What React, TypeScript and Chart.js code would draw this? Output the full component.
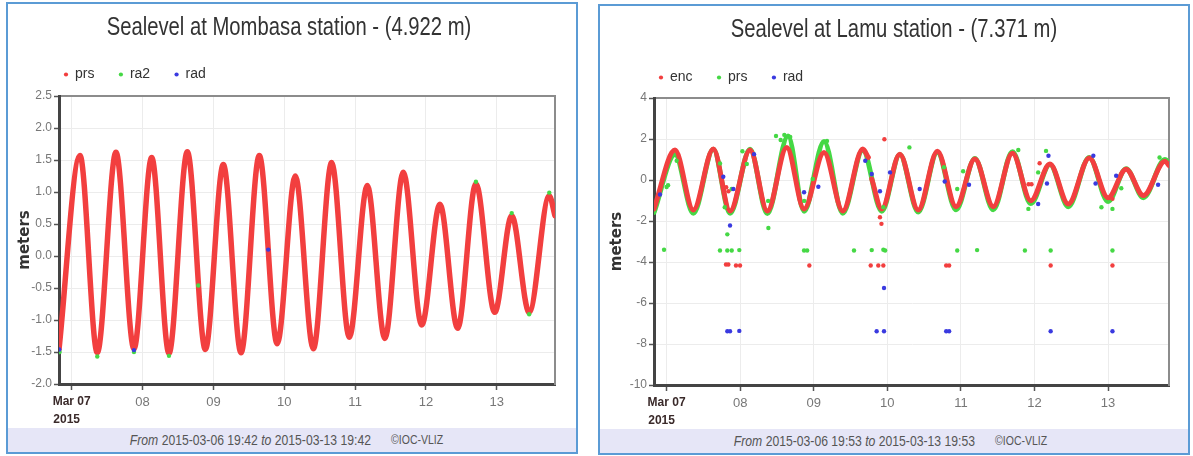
import React, { useEffect, useRef } from "react";
import { Chart, registerables } from "chart.js";

Chart.register(...registerables);

// ---------- shared axis data (x = days since 2015-03-07 00:00) ----------
const dayTicks = [0, 1, 2, 3, 4, 5, 6];
const dayLabels: (string | string[])[] = [["Mar 07", "2015   "], "08", "09", "10", "11", "12", "13"];

// ---------- Mombasa ----------
const mombasaTitle = "Sealevel at Mombasa station - (4.922 m)";
const mombasaSeries = ["prs", "ra2", "rad"];
const mombasaYTicks = [-2.0, -1.5, -1.0, -0.5, 0.0, 0.5, 1.0, 1.5, 2.0, 2.5];
const mombasaXMin = -0.179; // 2015-03-06 19:42
const mombasaXMax = 6.821; // 2015-03-13 19:42

const mombasaPrsT = [-0.179, 0.117, 0.361, 0.625, 0.879, 1.129, 1.373, 1.632, 1.886, 2.14, 2.39, 2.648, 2.9, 3.156, 3.41, 3.669, 3.918, 4.172, 4.42, 4.68, 4.94, 5.197, 5.447, 5.705, 5.97, 6.21, 6.456, 6.74, 6.821];
const mombasaPrsV = [-1.46, 1.57, -1.51, 1.62, -1.45, 1.54, -1.52, 1.63, -1.46, 1.43, -1.51, 1.57, -1.37, 1.25, -1.45, 1.46, -1.27, 1.1, -1.29, 1.31, -1.08, 0.81, -1.13, 1.13, -0.88, 0.63, -0.88, 0.94, 0.63];

const mombasaRa2T = [-0.17, 0.361, 0.879, 1.373, 1.787, 5.705, 6.21, 6.456, 6.74];
const mombasaRa2V = [-1.5, -1.57, -1.5, -1.56, -0.46, 1.16, 0.67, -0.91, 0.99];

const mombasaRadT = [-0.175, 0.879, 2.774];
const mombasaRadV = [-1.46, -1.47, 0.1];

// ---------- Lamu ----------
const lamuTitle = "Sealevel at Lamu station - (7.371 m)";
const lamuSeries = ["enc", "prs", "rad"];
const lamuYTicks = [-10, -8, -6, -4, -2, 0, 2, 4];
const lamuXMin = -0.1715; // 2015-03-06 19:53
const lamuXMax = 6.8285; // 2015-03-13 19:53

const lamuEncT = [-0.171, 0.114, 0.363, 0.635, 0.862, 1.134, 1.369, 1.633, 1.868, 2.139, 2.394, 2.666, 2.742, 2.765, 2.788, 2.924, 3.17, 3.42, 3.68, 3.934, 4.19, 4.44, 4.7, 4.95, 5.21, 5.46, 5.745, 6.0, 6.245, 6.48, 6.774, 6.829];
const lamuEncV = [-1.41, 1.46, -1.46, 1.51, -1.51, 1.46, -1.51, 1.59, -1.41, 1.34, -1.51, 1.51, 1.1, null, 0.05, -1.41, 1.26, -1.46, 1.4, -1.3, 1.02, -1.3, 1.3, -1.01, 0.78, -1.17, 1.07, -0.87, 0.53, -0.76, 0.91, 0.7];

const lamuEncDotT = [0.807, 0.839, 0.943, 0.998, 1.94, 2.774, 2.877, 2.946, 3.8, 3.84, 5.22, 6.06, 2.96, 2.9, 2.92, 4.92, 4.96, 5.07, 6.06, 0.81, 0.84];
const lamuEncDotV = [-4.12, -4.12, -4.17, -4.17, -4.17, -4.17, -4.17, -4.17, -4.17, -4.17, -4.17, -4.17, 1.99, -1.82, -2.14, -0.21, -0.21, 0.82, -0.92, -0.35, -0.55];

const lamuPrsLineT = [-0.171, 0.114, 0.363, 0.635, 0.862, 1.134, 1.369, 1.65, 1.868, 2.14, 2.394, 2.666, 2.924, 3.17, 3.42, 3.68, 3.934, 4.19, 4.44, 4.7, 4.95, 5.21, 5.46, 5.745, 6.0, 6.245, 6.48, 6.774, 6.829];
const lamuPrsLineV = [-1.58, 1.25, -1.62, 1.5, -1.62, 1.5, -1.64, 2.15, -1.52, 1.88, -1.62, 1.45, -1.52, 1.25, -1.56, 1.35, -1.45, 1.05, -1.45, 1.38, -1.15, 0.75, -1.3, 1.1, -1.05, 0.55, -0.86, 1.0, 0.85];

const lamuPrsDotT = [-0.035, 0.725, 0.825, 0.885, 0.988, 1.868, 1.91, 2.547, 2.788, 2.946, 2.97, 3.95, 4.22, 4.87, 5.22, 6.06, 0.825, 1.383,
  0.0, 0.02, 0.137, 0.726, 0.79, 0.885, 1.03, 1.09, 1.38, 1.487, 1.55, 1.6, 1.68, 1.87, 1.986, 2.13, 2.18, 2.946, 3.3, 3.77, 3.95, 4.03, 4.78, 4.917, 5.05, 5.157, 5.91, 6.06, 6.18, 6.7];
const lamuPrsDotV = [-3.4, -3.44, -3.44, -3.44, -3.42, -3.44, -3.44, -3.44, -3.42, -3.4, -3.44, -3.44, -3.42, -3.44, -3.44, -3.44, -2.65, -2.34,
  -0.34, -0.25, 0.94, 0.81, -1.33, -0.44, 1.4, 0.78, -1.02, 2.15, 1.95, 2.2, 2.1, -1.02, 0.05, 1.85, 1.9, -1.33, 1.59, 0.62, -0.44, 0.43, 1.46, -1.41, 0.37, 1.42, -1.33, -1.41, -0.4, 1.1];

const lamuRadT = [0.825, 0.862, 0.988, 2.855, 2.955, 3.8, 3.84, 5.22, 6.06, 0.862, 2.955,
  -0.09, 0.77, 0.907, 1.188, 1.868, 2.062, 2.7, 2.788, 2.9, 3.037, 3.44, 3.78, 4.11, 5.05, 5.17, 5.19, 5.8, 5.83, 6.11, 6.68];
const lamuRadV = [-7.38, -7.38, -7.36, -7.38, -7.38, -7.38, -7.38, -7.38, -7.38, -2.22, -5.27,
  -0.71, 0.16, -0.44, 1.26, -0.6, -0.33, 0.94, 0.29, -0.55, 0.37, -0.44, -0.07, -0.23, -1.17, -0.17, 1.18, 1.18, -0.17, 0.21, -0.23];

// ---------- styling ----------
const RED = "#f23f3f";
const GREEN = "#45d845";
const BLUE = "#3a3ae0";
const SANS = '"Liberation Sans", Arial, sans-serif';
const WIDE = '"DejaVu Sans", Verdana, sans-serif';

const pts = (t: number[], v: (number | null)[]) => t.map((x, i) => ({ x, y: v[i] }));

const lineDs = (label: string, t: number[], v: (number | null)[], color: string, order: number, width: number) => ({
  type: "line",
  label,
  data: pts(t, v),
  borderColor: color,
  backgroundColor: color,
  borderWidth: width,
  pointRadius: 0,
  cubicInterpolationMode: "monotone",
  spanGaps: false,
  borderCapStyle: "round",
  borderJoinStyle: "round",
  order,
  xAxisID: "x",
  yAxisID: "y",
});

const dotDs = (label: string, t: number[], v: (number | null)[], color: string, order: number) => ({
  type: "line",
  label,
  data: pts(t, v),
  showLine: false,
  pointRadius: 2.2,
  pointBackgroundColor: color,
  pointBorderWidth: 0,
  backgroundColor: color,
  borderColor: color,
  order,
  xAxisID: "x",
  yAxisID: "y",
});

// Title drawn in a narrow (horizontally condensed) face, like the original Arial Narrow title
const narrowTitle = {
  id: "narrowTitle",
  afterDraw(chart: any, _args: any, opts: any) {
    const { ctx, width } = chart;
    ctx.save();
    ctx.font = `normal ${opts.size}px ${SANS}`;
    ctx.fillStyle = opts.color;
    ctx.textAlign = "center";
    ctx.textBaseline = "middle";
    ctx.translate(width / 2 + opts.dx, opts.y);
    ctx.scale(opts.scaleX, 1);
    ctx.fillText(opts.text, 0, 0);
    ctx.restore();
  },
};

type Spec = {
  title: string;
  titleDx: number;
  legend: { name: string; color: string }[];
  datasets: any[];
  xMin: number;
  xMax: number;
  yTicks: number[];
  yDecimals: number;
  yAxisWidth: number;
  rightWidth: number;
  xAxisHeight: number;
  padTop: number;
  xTopHeight: number;
  yTitlePad: number;
};

function buildConfig(s: Spec): any {
  const yMin = s.yTicks[0];
  const yMax = s.yTicks[s.yTicks.length - 1];
  return {
    type: "line",
    data: { datasets: s.datasets },
    plugins: [narrowTitle],
    options: {
      animation: false,
      responsive: false,
      maintainAspectRatio: false,
      devicePixelRatio: 1,
      events: [],
      layout: { padding: { top: s.padTop, left: 0, right: 0, bottom: 0 } },
      plugins: {
        narrowTitle: { text: s.title, size: 25, scaleX: 0.81, color: "#333", y: 24, dx: s.titleDx },
        title: { display: false },
        legend: {
          display: true,
          position: "top",
          align: "start",
          fullSize: false,
          labels: {
            usePointStyle: true,
            boxWidth: 4,
            boxHeight: 3,
            padding: 5,
            color: "#333",
            font: { family: SANS, size: 14 },
            generateLabels: () =>
              s.legend.map((l, i) => ({
                text: l.name + "     ",
                fillStyle: l.color,
                strokeStyle: l.color,
                lineWidth: 0,
                pointStyle: "circle",
                hidden: false,
                datasetIndex: i,
                fontColor: "#333",
              })),
          },
        },
        tooltip: { enabled: false },
      },
      scales: {
        x: {
          type: "linear",
          position: "bottom",
          min: s.xMin,
          max: s.xMax,
          afterBuildTicks: (sc: any) => {
            sc.ticks = dayTicks.map((v) => ({ value: v }));
          },
          afterFit: (sc: any) => {
            sc.height = s.xAxisHeight;
          },
          ticks: {
            autoSkip: false,
            maxRotation: 0,
            minRotation: 0,
            padding: 3,
            callback: (v: any) => dayLabels[dayTicks.indexOf(Number(v))] ?? "",
            color: (c: any) => (c.index === 0 ? "#3a2a2a" : "#777"),
            font: (c: any) =>
              c.index === 0
                ? { family: SANS, size: 12, weight: "bold", lineHeight: 1.5 }
                : { family: SANS, size: 13, weight: "normal", lineHeight: 1.4 },
          },
          grid: { color: "#ececec", tickColor: "#555", tickLength: 6, lineWidth: 1, tickWidth: 1.5 },
          border: { color: "#444", width: 3 },
        },
        xTop: {
          type: "linear",
          position: "top",
          min: s.xMin,
          max: s.xMax,
          ticks: { display: false },
          grid: { display: false, drawTicks: false, drawOnChartArea: false },
          border: { color: "#8c8c8c", width: 2 },
          afterFit: (sc: any) => {
            sc.height = s.xTopHeight;
          },
        },
        y: {
          type: "linear",
          position: "left",
          min: yMin,
          max: yMax,
          afterBuildTicks: (sc: any) => {
            sc.ticks = s.yTicks.map((v) => ({ value: v }));
          },
          afterFit: (sc: any) => {
            sc.width = s.yAxisWidth;
          },
          ticks: {
            color: "#777",
            font: { family: SANS, size: 12 },
            padding: 2,
            callback: (v: any) => Number(v).toFixed(s.yDecimals),
          },
          grid: { color: "#ececec", tickColor: "#555", tickLength: 5, tickWidth: 1.5 },
          border: { color: "#444", width: 3 },
          title: {
            display: true,
            text: "meters",
            color: "#333",
            font: { family: WIDE, size: 15, weight: "bold" },
            padding: { top: s.yTitlePad, bottom: 0 },
          },
        },
        yRight: {
          type: "linear",
          position: "right",
          min: yMin,
          max: yMax,
          ticks: { display: false },
          grid: { display: false, drawTicks: false, drawOnChartArea: false },
          border: { color: "#8c8c8c", width: 2 },
          afterFit: (sc: any) => {
            sc.width = s.rightWidth;
          },
        },
      },
    },
  };
}

type PanelProps = {
  left: number;
  top: number;
  width: number;
  height: number;
  canvasH: number;
  spec: Spec;
  from: string;
  to: string;
  footerShift: number;
};

function Panel({ left, top, width, height, canvasH, spec, from, to, footerShift }: PanelProps) {
  const ref = useRef<HTMLCanvasElement | null>(null);
  const innerW = width - 4;
  useEffect(() => {
    if (!ref.current) return;
    const chart = new Chart(ref.current, buildConfig(spec));
    return () => chart.destroy();
  }, []);
  return (
    <div
      style={{
        position: "absolute",
        left,
        top,
        width,
        height,
        boxSizing: "border-box",
        border: "2px solid #5b9bd5",
        background: "#fff",
        overflow: "hidden",
      }}
    >
      <canvas ref={ref} width={innerW} height={canvasH} style={{ position: "absolute", left: 0, top: 0, display: "block" }} />
      <div
        style={{
          position: "absolute",
          left: 0,
          right: 0,
          top: canvasH,
          bottom: 0,
          background: "#e6e6f7",
          display: "flex",
          alignItems: "center",
          justifyContent: "center",
          fontFamily: SANS,
          fontSize: 14.5,
          color: "#555",
          whiteSpace: "nowrap",
        }}
      >
        <div style={{ transform: `translateX(${footerShift}px) scaleX(0.84)`, display: "flex", alignItems: "center" }}>
          <span>
            <i>From</i> {from} <i>to</i> {to}
          </span>
          <span style={{ marginLeft: 24, fontSize: 12.5 }}>©IOC-VLIZ</span>
        </div>
      </div>
    </div>
  );
}

const mombasaSpec: Spec = {
  title: mombasaTitle,
  titleDx: -3,
  legend: [
    { name: mombasaSeries[0], color: RED },
    { name: mombasaSeries[1], color: GREEN },
    { name: mombasaSeries[2], color: BLUE },
  ],
  datasets: [
    lineDs(mombasaSeries[0], mombasaPrsT, mombasaPrsV, RED, 2, 5.5),
    dotDs(mombasaSeries[1], mombasaRa2T, mombasaRa2V, GREEN, 1),
    dotDs(mombasaSeries[2], mombasaRadT, mombasaRadV, BLUE, 0),
  ],
  xMin: mombasaXMin,
  xMax: mombasaXMax,
  yTicks: mombasaYTicks,
  yDecimals: 1,
  yAxisWidth: 51,
  rightWidth: 21,
  xAxisHeight: 44,
  padTop: 58.5,
  xTopHeight: 4.5,
  yTitlePad: 8,
};

const lamuSpec: Spec = {
  title: lamuTitle,
  titleDx: 0,
  legend: [
    { name: lamuSeries[0], color: RED },
    { name: lamuSeries[1], color: GREEN },
    { name: lamuSeries[2], color: BLUE },
  ],
  datasets: [
    lineDs(lamuSeries[0], lamuEncT, lamuEncV, RED, 3, 5),
    dotDs(lamuSeries[1], lamuPrsDotT, lamuPrsDotV, GREEN, 1),
    dotDs(lamuSeries[2], lamuRadT, lamuRadV, BLUE, 0),
    dotDs(lamuSeries[0], lamuEncDotT, lamuEncDotV, RED, 2),
    lineDs(lamuSeries[1], lamuPrsLineT, lamuPrsLineV, GREEN, 4, 5),
  ],
  xMin: lamuXMin,
  xMax: lamuXMax,
  yTicks: lamuYTicks,
  yDecimals: 0,
  yAxisWidth: 54,
  rightWidth: 19,
  xAxisHeight: 44,
  padTop: 59.5,
  xTopHeight: 3.5,
  yTitlePad: 8,
};

export default function App() {
  return (
    <div style={{ position: "absolute", left: 0, top: 0, width: 1193, height: 456, background: "#fff", overflow: "hidden" }}>
      <Panel
        left={6}
        top={2}
        width={572}
        height={452}
        canvasH={424}
        spec={mombasaSpec}
        from="2015-03-06 19:42"
        to="2015-03-13 19:42"
        footerShift={-5}
      />
      <Panel
        left={598}
        top={4}
        width={592}
        height={451}
        canvasH={423}
        spec={lamuSpec}
        from="2015-03-06 19:53"
        to="2015-03-13 19:53"
        footerShift={-3}
      />
    </div>
  );
}
